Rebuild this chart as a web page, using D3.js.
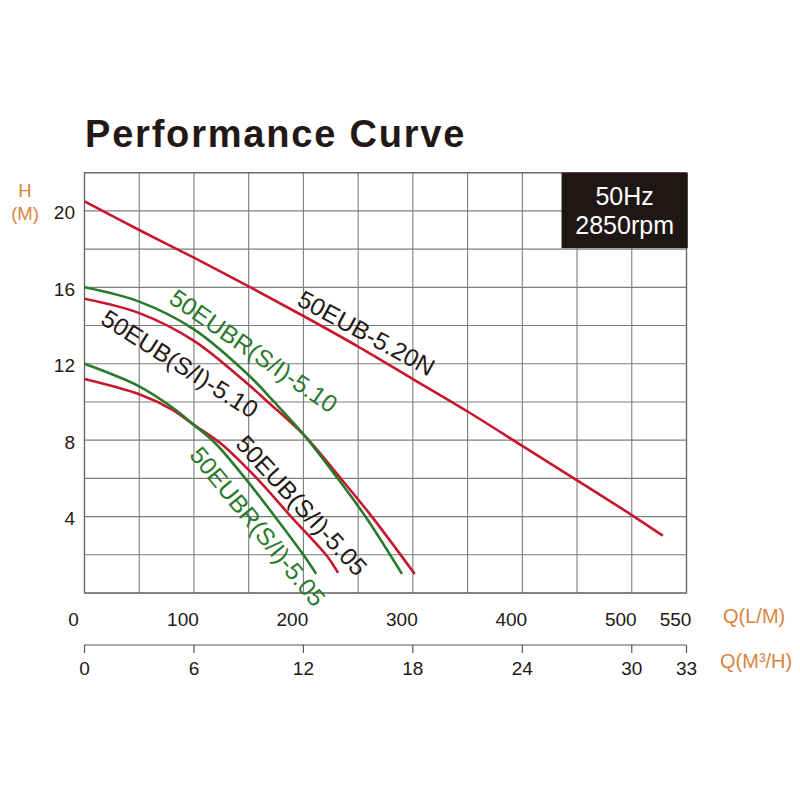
<!DOCTYPE html>
<html>
<head>
<meta charset="utf-8">
<script src="https://cdn.jsdelivr.net/npm/d3@7"></script>
<style>
  html, body { margin: 0; padding: 0; background: #ffffff; }
  svg { display: block; font-family: "Liberation Sans", Arial, Helvetica, sans-serif; }
</style>
</head>
<body>
<svg id="chart" width="800" height="800"></svg>
<script>
// ---- data (Q in m³/h, H in m) ----
const headTicks = [4, 8, 12, 16, 20];
const flowTicksLM = [0, 100, 200, 300, 400, 500, 550];
const flowTicksM3H = [0, 6, 12, 18, 24, 30, 33];

const curve520N = [[0,20.5],[3,19.0],[6,17.55],[9,16.05],[12,14.5],[15,12.9],[18,11.2],[21,9.5],[24,7.7],[27,5.9],[30,4.08],[31.7,3.0]];
const curveR510 = [[0,16.0],[3,15.25],[6,13.8],[9,11.4],[10.4,10.0],[12.05,8.25],[13.8,6.1],[15.4,4.0],[17.4,1.0]];
const curveS510 = [[0,15.4],[3,14.65],[6,13.2],[9,10.9],[10.05,10.0],[12.05,8.25],[14.0,6.05],[15.75,4.0],[18.1,1.0]];
const curveR505 = [[0,12.0],[3,10.82],[4.8,9.72],[6,8.8],[7.16,7.85],[8.81,6.0],[10.36,4.1],[12.0,2.0],[12.7,1.0]];
const curveS505 = [[0,11.2],[3,10.4],[4.8,9.6],[6,8.8],[7.44,7.85],[9.45,6.0],[11.27,4.05],[13.28,1.95],[13.9,1.05]];

const seriesNames = ["50EUB-5.20N", "50EUBR(S/I)-5.10", "50EUB(S/I)-5.10", "50EUBR(S/I)-5.05", "50EUB(S/I)-5.05"];

const RED = "#c8172d", GREEN = "#2a7a2c", ORANGE = "#d8843f", INK = "#231815";

// ---- layout ----
const svg = d3.select("#chart");
const x = d3.scaleLinear().domain([0, 33]).range([84.5, 686.5]);
const y = d3.scaleLinear().domain([0, 22]).range([593, 172.7]);
const LPM_TO_M3H = 0.06;

// title
svg.append("text").attr("x", 85).attr("y", 147)
  .attr("font-size", 38).attr("font-weight", "bold").attr("letter-spacing", "1.8px")
  .attr("fill", INK).text("Performance Curve");

// grid
const g = svg.append("g");
g.selectAll("line.v").data(d3.range(0, 34, 3)).join("line")
  .attr("x1", d => x(d)).attr("x2", d => x(d)).attr("y1", y(0)).attr("y2", y(22))
  .attr("stroke", "#7d7d7d").attr("stroke-width", 1.1);
g.selectAll("line.h").data(d3.range(0, 23, 2)).join("line")
  .attr("class", "h")
  .attr("x1", x(0)).attr("x2", x(33)).attr("y1", d => y(d)).attr("y2", d => y(d))
  .attr("stroke", "#7d7d7d").attr("stroke-width", 1.1);
g.append("rect").attr("x", x(0)).attr("y", y(22)).attr("width", x(33) - x(0)).attr("height", y(0) - y(22))
  .attr("fill", "none").attr("stroke", "#666").attr("stroke-width", 1.3);

// y tick labels
svg.selectAll("text.yt").data(headTicks).join("text")
  .attr("x", 75).attr("y", d => y(d) + 8.5).attr("text-anchor", "end")
  .attr("font-size", 19).attr("fill", INK).text(d => d);

// y axis title
svg.append("text").attr("x", 25).attr("y", 197).attr("text-anchor", "middle")
  .attr("font-size", 18.5).attr("fill", ORANGE).text("H");
svg.append("text").attr("x", 25).attr("y", 220).attr("text-anchor", "middle")
  .attr("font-size", 18.5).attr("fill", ORANGE).text("(M)");

// L/M labels
svg.selectAll("text.lm").data(flowTicksLM).join("text")
  .attr("x", d => x(d * LPM_TO_M3H) - 11).attr("y", 626).attr("text-anchor", "middle")
  .attr("font-size", 19).attr("fill", INK).text(d => d);
svg.append("text").attr("x", 723).attr("y", 623).attr("font-size", 20).attr("fill", ORANGE).text("Q(L/M)");

// m3/h axis
const axY = 645;
svg.append("line").attr("x1", x(0)).attr("x2", x(33)).attr("y1", axY).attr("y2", axY)
  .attr("stroke", "#555").attr("stroke-width", 1.2);
svg.selectAll("line.mt").data(flowTicksM3H).join("line")
  .attr("x1", d => x(d)).attr("x2", d => x(d)).attr("y1", axY).attr("y2", axY + 8)
  .attr("stroke", "#555").attr("stroke-width", 1.2);
svg.selectAll("text.mt").data(flowTicksM3H).join("text")
  .attr("x", d => x(d)).attr("y", 675).attr("text-anchor", "middle")
  .attr("font-size", 19).attr("fill", INK).text(d => d);
svg.append("text").attr("x", 720).attr("y", 668).attr("font-size", 20).attr("fill", ORANGE).text("Q(M³/H)");

// curves
const line = d3.line().x(d => x(d[0])).y(d => y(d[1])).curve(d3.curveCatmullRom.alpha(0.5));
const curves = [
  { data: curve520N, color: RED },
  { data: curveS510, color: RED },
  { data: curveS505, color: RED },
  { data: curveR510, color: GREEN },
  { data: curveR505, color: GREEN }
];
svg.selectAll("path.c").data(curves).join("path")
  .attr("d", d => line(d.data)).attr("fill", "none")
  .attr("stroke", d => d.color).attr("stroke-width", 2.6).attr("stroke-linecap", "butt");

// curve labels (anchor in data units, angle in degrees)
const labelPlace = [
  { q: 15.45, h: 13.6, a: 28.5, color: INK },
  { q: 9.27, h: 12.67, a: 34.6, color: GREEN },
  { q: 5.22, h: 12.0, a: 32.3, color: INK },
  { q: 9.49, h: 3.48, a: 50.7, color: GREEN },
  { q: 11.9, h: 4.58, a: 47.4, color: INK }
];
svg.selectAll("text.cl").data(seriesNames).join("text")
  .attr("transform", (d, i) => `translate(${x(labelPlace[i].q)},${y(labelPlace[i].h)}) rotate(${labelPlace[i].a})`)
  .attr("text-anchor", "middle").attr("dominant-baseline", "central")
  .attr("font-size", 24.5).attr("fill", (d, i) => labelPlace[i].color).text(d => d);

// frequency box
svg.append("rect").attr("x", x(26.15)).attr("y", y(22)).attr("width", x(33.07) - x(26.15)).attr("height", y(18.05) - y(22))
  .attr("fill", "#1f1716");
svg.append("text").attr("x", (x(26.15) + x(33.07)) / 2).attr("y", 205).attr("text-anchor", "middle")
  .attr("font-size", 25).attr("fill", "#fff").text("50Hz");
svg.append("text").attr("x", (x(26.15) + x(33.07)) / 2).attr("y", 234).attr("text-anchor", "middle")
  .attr("font-size", 25).attr("fill", "#fff").text("2850rpm");
</script>
</body>
</html>
